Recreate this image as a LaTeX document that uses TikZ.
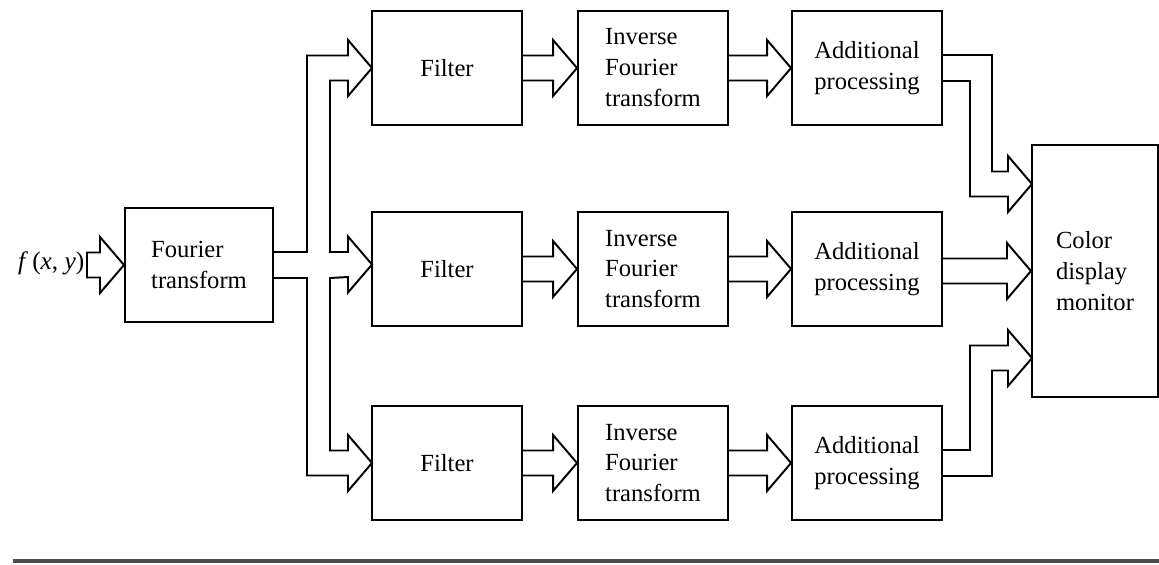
\documentclass[tikz,border=0pt]{standalone}
\usepackage{fontspec}
\setmainfont{Liberation Serif}
\usetikzlibrary{positioning, calc}

\begin{document}
\begin{tikzpicture}[
    x=0.025cm, y=-0.025cm,
    box/.style={draw, line width=1.4pt, minimum width=3.75cm, minimum height=2.85cm, align=left, font=\fontsize{17.5}{22}\selectfont},
    hollow/.style={draw, line width=1.4pt, line join=miter},
    bighead/.style={insert path={-- ++(0,-15.5) -- ++(24,28) -- ++(-24,28) -- ++(0,-15.5)}}
]
\useasboundingbox (0,0) rectangle (1159,565);

\node[box, minimum width=3.7cm] (ft) at (199,265) {Fourier\\transform};
\node[anchor=east, inner sep=1pt, font=\fontsize{18}{22}\selectfont] (fxy) at (86,263) {\textit{f}\,(\textit{x}, \textit{y})};

\node[box] (f1) at (447,68) {Filter};
\node[box] (f2) at (447,269) {Filter};
\node[box] (f3) at (447,463) {Filter};
\node[box, right=1.35cm of f1] (i1) {Inverse\\Fourier\\transform};
\node[box, right=1.35cm of f2] (i2) {Inverse\\Fourier\\transform};
\node[box, right=1.35cm of f3] (i3) {Inverse\\Fourier\\transform};
\node[box, right=1.55cm of i1] (a1) {Additional\\processing};
\node[box, right=1.55cm of i2] (a2) {Additional\\processing};
\node[box, right=1.55cm of i3] (a3) {Additional\\processing};
\node[box, minimum width=3.15cm, minimum height=6.3cm] (mon) at (1095,271) {Color\\display\\monitor};

% input
\draw[hollow] ($(ft.west)+(-37,-12.5)$) -- ($(ft.west)+(-24,-12.5)$) [bighead] -- ($(ft.west)+(-37,12.5)$) -- cycle;

% fan-out to the three filters
\draw[hollow] ($(ft.east)+(0,-13)$) -| (307,55.5) -- (348,55.5) [bighead]
    -- (330,80.5) -- (330,252) -- (348,252) [bighead]
    -- (330,278) -- (330,450.5) -- (348,450.5) [bighead]
    -- (307,475.5) -- (307,278) -- ($(ft.east)+(0,13)$);

% rows
\draw[hollow] ($(f1.east)+(0,-12.5)$) -- ($(i1.west)+(-24,-12.5)$) [bighead] -- ($(f1.east)+(0,12.5)$);
\draw[hollow] ($(f2.east)+(0,-12.5)$) -- ($(i2.west)+(-24,-12.5)$) [bighead] -- ($(f2.east)+(0,12.5)$);
\draw[hollow] ($(f3.east)+(0,-12.5)$) -- ($(i3.west)+(-24,-12.5)$) [bighead] -- ($(f3.east)+(0,12.5)$);
\draw[hollow] ($(i1.east)+(0,-12.5)$) -- ($(a1.west)+(-24,-12.5)$) [bighead] -- ($(i1.east)+(0,12.5)$);
\draw[hollow] ($(i2.east)+(0,-12.5)$) -- ($(a2.west)+(-24,-12.5)$) [bighead] -- ($(i2.east)+(0,12.5)$);
\draw[hollow] ($(i3.east)+(0,-12.5)$) -- ($(a3.west)+(-24,-12.5)$) [bighead] -- ($(i3.east)+(0,12.5)$);

% into the monitor
\draw[hollow] ($(a1.east)+(0,-13)$) -| (992,171.5) -- (1008,171.5) [bighead] -- (970,196.5) |- ($(a1.east)+(0,13)$);
\draw[hollow] ($(a2.east |- mon.west)+(0,-12.5)$) -- ($(mon.west)+(-24,-12.5)$) [bighead] -- ($(a2.east |- mon.west)+(0,12.5)$);
\draw[hollow] ($(a3.east)+(0,-13)$) -| (970,345.5) -- (1008,345.5) [bighead] -- (992,370.5) |- ($(a3.east)+(0,13)$);

\draw[line width=2.4pt, black!70] (13,561) -- (1159,561);
\end{tikzpicture}
\end{document}
